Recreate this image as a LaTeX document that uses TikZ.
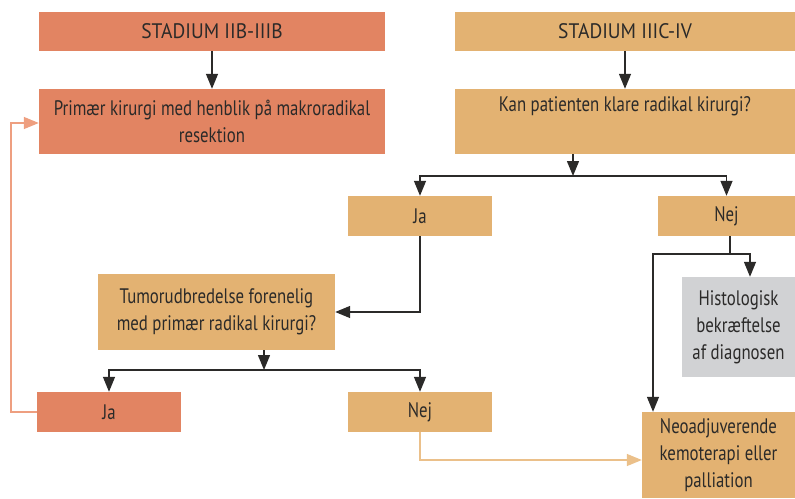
\documentclass[tikz,border=0pt]{standalone}
\usepackage{fontspec}
\setmainfont[FakeStretch=0.8]{PT Sans}
\newfontfamily\stagefont[FakeStretch=0.93]{PT Sans}
\usepackage{tikz}
\usetikzlibrary{arrows.meta,positioning,calc}
\definecolor{salmon}{HTML}{E28462}
\definecolor{sand}{HTML}{E3B272}
\definecolor{lightgray}{HTML}{D1D2D4}
\definecolor{inkgray}{HTML}{2B2A29}
\definecolor{salmonline}{HTML}{EE9F80}
\definecolor{sandline}{HTML}{EBC08A}

\begin{document}
\begin{tikzpicture}[x=1pt, y=-1pt,
    box/.style={rectangle, inner sep=0pt, align=center, text=inkgray,
        font=\fontsize{21}{27}\selectfont},
    redbox/.style={box, fill=salmon},
    tanbox/.style={box, fill=sand},
    greybox/.style={box, fill=lightgray},
    stage/.style={font=\stagefont\fontsize{21}{27}\selectfont},
    arr/.style={-{Triangle[length=15pt, width=12pt]}, line width=1.4pt, inkgray},
    plain/.style={line width=1.4pt, inkgray},
    backarr/.style={-{Triangle[length=15pt, width=12pt]}, line width=1.4pt}]

    \useasboundingbox (0,0) rectangle (795,498);

    % Left column
    \node[redbox, stage, minimum width=346pt, minimum height=39pt] (stA) at (212,31.5) {STADIUM IIB-IIIB};
    \node[redbox, minimum width=346pt, minimum height=65pt] (prim) at (212,121.5)
        {Primær kirurgi med henblik på makroradikal\\resektion};

    % Right column
    \node[tanbox, stage, minimum width=340pt, minimum height=39pt] (stB) at (625,31.5) {STADIUM IIIC-IV};
    \node[tanbox, minimum width=340pt, minimum height=65pt] (kan) at (625,121.5)
        {Kan patienten klare radikal kirurgi?\\\strut};

    % First answers
    \node[tanbox, minimum width=144pt, minimum height=40pt] (ja1) at (420,216) {Ja};
    \node[tanbox, minimum width=137pt, minimum height=40pt] (nej1) at (726.5,216) {Nej};

    % Second question
    \node[tanbox, minimum width=237pt, minimum height=76pt] (tumor) at (216.5,312)
        {Tumorudbredelse forenelig\\med primær radikal kirurgi?};
    \node[greybox, minimum width=113pt, minimum height=100pt] (histo) at (738.5,327)
        {Histologisk\\bekræftelse\\af diagnosen};

    % Second answers
    \node[redbox, minimum width=144pt, minimum height=40pt] (ja2) at (109,412) {Ja};
    \node[tanbox, minimum width=144pt, minimum height=40pt] (nej2) at (420,412) {Nej};
    \node[tanbox, minimum width=153pt, minimum height=86pt] (neo) at (718.5,455)
        {Neoadjuverende\\kemoterapi eller\\palliation};

    % Splits
    \coordinate (ksplit) at (573,176);
    \coordinate (tsplit) at (264,370);
    \coordinate (nsplit) at (730,254);

    \draw[arr] (stA) -- (prim);
    \draw[arr] (stB) -- (kan);

    \draw[arr] ([xshift=-52pt]kan.south) -- (ksplit);
    \draw[arr] (ksplit) -| (ja1.north);
    \draw[arr] (ksplit) -| (nej1.north);

    \draw[arr] (ja1.south) |- (tumor.east);

    \draw[plain] ([xshift=3.5pt]nej1.south) -- (nsplit);
    \draw[arr] (nsplit) -| ([xshift=11.5pt]histo.north);
    \draw[arr] (nsplit) -| ([xshift=-65.5pt]neo.north);

    \draw[arr] ([xshift=47.5pt]tumor.south) -- (tsplit);
    \draw[arr] (tsplit) -| (ja2.north);
    \draw[arr] (tsplit) -| (nej2.north);

    % Back to surgery
    \draw[backarr, salmonline] (ja2.west) -- ++(-26,0) |- ([yshift=-1.5pt]prim.west);
    \draw[backarr, sandline] (nej2.south) |- ([yshift=-5pt]neo.west);
\end{tikzpicture}
\end{document}
